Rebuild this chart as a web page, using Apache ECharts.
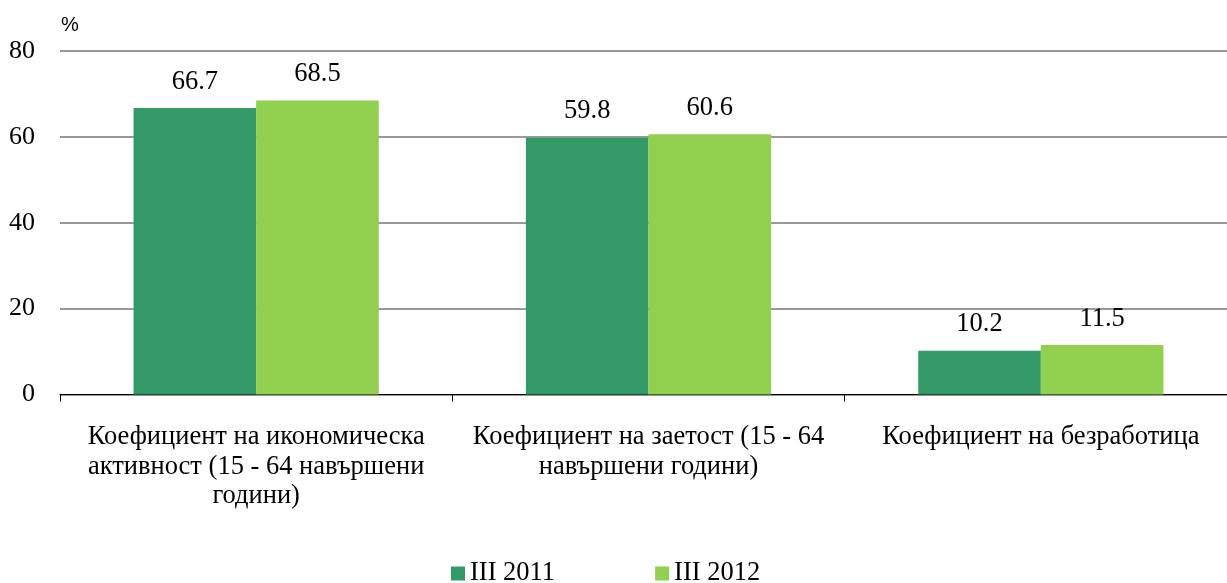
<!DOCTYPE html>
<html>
<head>
<meta charset="utf-8">
<script src="https://cdn.jsdelivr.net/npm/echarts@6/dist/echarts.min.js"></script>
<style>html,body{margin:0;padding:0;background:#fff;overflow:hidden;}#c{width:1240px;height:583px;}</style>
</head>
<body>
<div id="c"></div>
<script>
const categories = [
  'Коефициент на икономическа\nактивност (15 - 64 навършени\nгодини)',
  'Коефициент на заетост (15 - 64\nнавършени години)',
  'Коефициент на безработица'
];
const seriesNames = ['III 2011', 'III 2012'];
const values2011 = [66.7, 59.8, 10.2];
const values2012 = [68.5, 60.6, 11.5];
const yTicks = { min: 0, max: 80, interval: 20 };

const serif = '"Liberation Serif", "DejaVu Serif", serif';
const chart = echarts.init(document.getElementById('c'), null, { renderer: 'canvas' });
const labelStyle = {
  show: true, position: 'top', distance: 13,
  fontFamily: serif, fontSize: 26.5, color: '#000',
  formatter: p => p.value.toFixed(1)
};
chart.setOption({
  animation: false,
  grid: { left: 60, width: 1177, top: 51, bottom: 188.5, containLabel: false },
  graphic: [{
    type: 'text', left: 61, top: 15,
    style: { text: '%', fontFamily: '"Liberation Sans", Arial, sans-serif', fontSize: 20, fill: '#000' }
  }],
  legend: {
    top: 560, left: 451, padding: 0,
    itemWidth: 14, itemHeight: 14, itemGap: 100,
    icon: 'rect',
    textStyle: { fontFamily: serif, fontSize: 26.5, color: '#000' },
    data: seriesNames
  },
  xAxis: {
    type: 'category', data: categories,
    axisLine: { lineStyle: { color: '#000', width: 1 } },
    axisTick: { show: true, length: 7, alignWithLabel: false, lineStyle: { color: '#000' } },
    axisLabel: { fontFamily: serif, fontSize: 26.5, color: '#000', lineHeight: 29.5, margin: 28, interval: 0 }
  },
  yAxis: {
    type: 'value', min: yTicks.min, max: yTicks.max, interval: yTicks.interval,
    axisLine: { show: false }, axisTick: { show: false },
    axisLabel: { fontFamily: serif, fontSize: 26, color: '#000', margin: 25 },
    splitLine: { lineStyle: { color: '#777', width: 1.5 } }
  },
  series: [
    { name: seriesNames[0], type: 'bar', data: values2011, barGap: '0%', barCategoryGap: '37.5%',
      itemStyle: { color: '#339966' }, label: labelStyle },
    { name: seriesNames[1], type: 'bar', data: values2012, barGap: '0%', barCategoryGap: '37.5%',
      itemStyle: { color: '#92D050' }, label: labelStyle }
  ]
});
</script>
</body>
</html>
